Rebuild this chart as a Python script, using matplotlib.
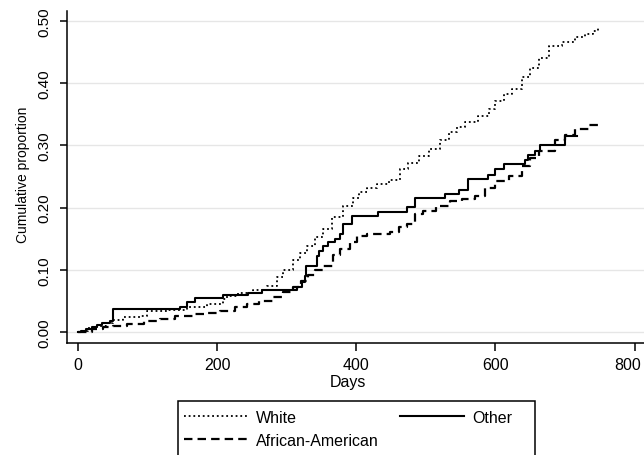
import matplotlib
matplotlib.use('Agg')
import matplotlib.pyplot as plt
from matplotlib.patches import Rectangle
from matplotlib.transforms import offset_copy

plt.rcParams['font.family'] = ['Liberation Sans', 'DejaVu Sans']

# cumulative proportion by days
white_days = [0, 5, 15, 27, 40, 51, 65, 89, 99, 130, 157, 185, 208, 214, 230, 252, 271, 286,
              295, 309, 319, 329, 340, 352, 365, 381, 395, 404, 415, 430, 447, 463, 475, 490,
              504, 520, 533, 545, 556, 575, 591, 599, 612, 624, 638, 650, 663, 677, 696, 715,
              729, 740, 747]
white_prop = [0, 0.002, 0.006, 0.010, 0.015, 0.020, 0.024, 0.026, 0.033, 0.035, 0.040, 0.045,
              0.053, 0.058, 0.062, 0.068, 0.074, 0.088, 0.100, 0.115, 0.127, 0.138, 0.152, 0.166,
              0.185, 0.203, 0.215, 0.225, 0.232, 0.238, 0.245, 0.262, 0.272, 0.283, 0.294, 0.308,
              0.321, 0.330, 0.337, 0.347, 0.358, 0.372, 0.382, 0.391, 0.410, 0.425, 0.440, 0.460,
              0.466, 0.474, 0.479, 0.484, 0.490]

afam_days = [0, 10, 20, 36, 50, 70, 95, 118, 140, 165, 185, 204, 225, 243, 260, 280, 295, 309,
             320, 331, 340, 352, 367, 377, 391, 401, 415, 430, 448, 461, 473, 485, 496, 514, 535,
             552, 571, 585, 600, 619, 638, 650, 662, 686, 700, 715, 734, 751]
afam_prop = [0, 0, 0.004, 0.008, 0.010, 0.013, 0.017, 0.021, 0.025, 0.029, 0.031, 0.034, 0.040,
             0.045, 0.050, 0.056, 0.064, 0.072, 0.082, 0.092, 0.100, 0.106, 0.123, 0.133, 0.145,
             0.155, 0.157, 0.158, 0.160, 0.168, 0.174, 0.190, 0.195, 0.203, 0.211, 0.214, 0.218,
             0.232, 0.242, 0.251, 0.267, 0.280, 0.291, 0.308, 0.316, 0.326, 0.333, 0.334]

other_days = [0, 5, 12, 20, 27, 35, 46, 51, 147, 157, 168, 208, 245, 265, 315, 322, 326, 328,
              343, 347, 352, 360, 370, 377, 381, 394, 431, 473, 484, 528, 548, 561, 589, 600,
              612, 643, 647, 657, 664, 700, 718]
other_prop = [0, 0.002, 0.005, 0.008, 0.011, 0.014, 0.018, 0.037, 0.040, 0.048, 0.055, 0.059,
              0.062, 0.067, 0.072, 0.080, 0.090, 0.106, 0.122, 0.130, 0.138, 0.145, 0.150, 0.158,
              0.174, 0.187, 0.193, 0.201, 0.215, 0.222, 0.229, 0.246, 0.252, 0.262, 0.270, 0.277,
              0.285, 0.291, 0.301, 0.315, 0.315]

yticks = [0, 0.1, 0.2, 0.3, 0.4, 0.5]
xticks = [0, 200, 400, 600, 800]

fig = plt.figure(figsize=(6.44, 4.56), dpi=100)
ax = fig.add_axes([67/644, 1 - 343.5/456, 577/644, (343.5 - 12)/456])

l1, = ax.step(white_days, white_prop, where='post', color='k', lw=1.3,
              linestyle=(0, (1, 1.6)), label='White')
l2, = ax.step(afam_days, afam_prop, where='post', color='k', lw=1.6,
              linestyle=(0, (3.8, 2.3)), label='African-American')
l3, = ax.step(other_days, other_prop, where='post', color='k', lw=1.5,
              label='Other')

ax.set_xlim(-15.8, 813.6)
ax.set_ylim(-0.0169, 0.516)
ax.set_yticks(yticks)
ax.set_yticklabels(['%.2f' % v for v in yticks], rotation=90, va='center', fontsize=11)
ax.set_xticks(xticks)
ax.set_xticklabels([str(v) for v in xticks], fontsize=11.5)
ax.tick_params(axis='y', length=5, width=1.1, pad=6.5)
ax.tick_params(axis='x', length=6, width=1.1, pad=4.5)
ax.grid(True, axis='y', color='#e6e6e6', lw=1.0)
ax.set_axisbelow(True)
for s in ['top', 'right']:
    ax.spines[s].set_visible(False)
for s in ['left', 'bottom']:
    ax.spines[s].set_linewidth(1.1)

# last x label sits a little left of its tick, as in the original
last = ax.get_xticklabels()[-1]
last.set_transform(offset_copy(last.get_transform(), fig=fig, x=-7, units='dots'))

fig.text(23/644, 1 - 175/456, 'Cumulative proportion', rotation=90,
         ha='center', va='center', fontsize=10)
fig.text(348/644, 1 - 383/456, 'Days', ha='center', va='center', fontsize=11.5)

# legend box runs off the bottom edge
fig.patches.append(Rectangle((177.5/644, 1 - 470/456), 357.5/644, 68/456,
                             transform=fig.transFigure, fill=False, ec='k', lw=1.1))
fig.legend([l1, l2, l3], ['White', 'African-American', 'Other'], ncol=2,
           loc='center left', bbox_to_anchor=(184/644, 1 - 430/456), frameon=False,
           fontsize=11.5, handlelength=4.0, handletextpad=0.5, columnspacing=1.35,
           labelspacing=0.5, borderpad=0, borderaxespad=0)

fig.savefig('out.png', dpi=100)
